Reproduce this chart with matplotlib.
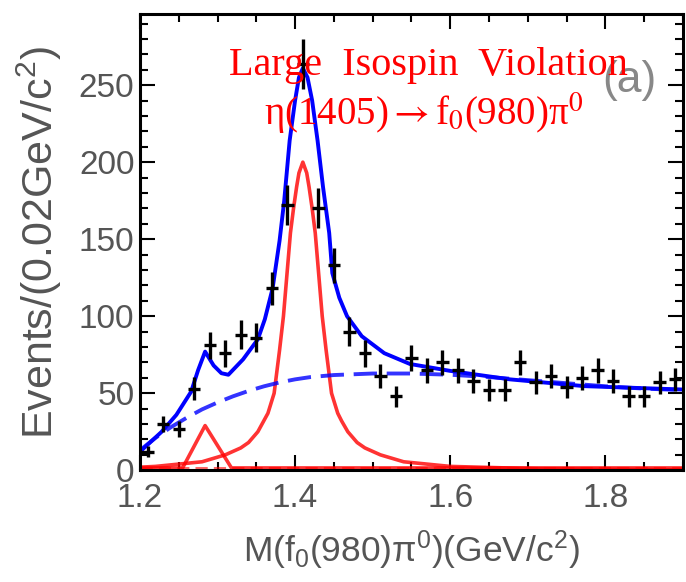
import numpy as np
import matplotlib.pyplot as plt
from matplotlib.ticker import MultipleLocator

plt.rcParams['font.family'] = ['Liberation Sans', 'DejaVu Sans']
plt.rcParams['mathtext.fontset'] = 'custom'
plt.rcParams['mathtext.rm'] = 'Liberation Sans'
plt.rcParams['mathtext.it'] = 'Liberation Sans:italic'

# data points (bin width 0.02 GeV/c^2)
mass = [1.21, 1.23, 1.25, 1.27, 1.29, 1.31, 1.33, 1.35, 1.37, 1.39,
        1.41, 1.43, 1.45, 1.47, 1.49, 1.51, 1.53, 1.55, 1.57, 1.59,
        1.61, 1.63, 1.65, 1.67, 1.69, 1.71, 1.73, 1.75, 1.77, 1.79,
        1.81, 1.83, 1.85, 1.87, 1.89]
counts = [12, 30, 27, 53, 81, 76, 88, 86, 118, 172,
          264, 170, 133, 90, 76, 61, 48, 73, 65, 70,
          65, 58, 52, 52, 70, 57, 61, 54, 60, 65,
          58, 48, 48, 57, 59]
err = np.sqrt(counts)

# total fit (blue solid)
total_x = [1.20, 1.228, 1.247, 1.266, 1.275, 1.284, 1.295, 1.305, 1.314, 1.333,
           1.352, 1.361, 1.371, 1.380, 1.386, 1.393, 1.400, 1.405, 1.410, 1.416,
           1.422, 1.429, 1.436, 1.444, 1.448, 1.457, 1.467, 1.486, 1.515, 1.548,
           1.600, 1.677, 1.773, 1.900]
total_y = [12, 25, 36, 51, 65, 77, 68, 63, 62, 72,
           85, 98, 118, 149, 175, 214, 240, 255, 261, 255,
           240, 214, 184, 154, 128, 112, 100, 87, 76, 69,
           64.5, 59, 54.6, 52.4]

# background (blue dashed)
bkg_x = [1.20, 1.22, 1.24, 1.26, 1.28, 1.30, 1.32, 1.34, 1.36, 1.38,
         1.40, 1.42, 1.45, 1.50, 1.55, 1.60, 1.65, 1.70, 1.75, 1.80,
         1.85, 1.90]
bkg_y = [13, 21, 28, 34, 39.5, 44, 48, 51.5, 54.5, 57,
         59, 60.5, 61.8, 62.8, 62.8, 62, 60.5, 58.5, 56.5, 54.5,
         53, 52]

# eta(1405) signal (red solid)
sig_x = [1.20, 1.22, 1.28, 1.31, 1.33, 1.34, 1.352, 1.365, 1.373, 1.38,
         1.385, 1.39, 1.394, 1.398, 1.402, 1.405, 1.41, 1.415, 1.418, 1.422,
         1.426, 1.43, 1.435, 1.44, 1.447, 1.455, 1.46, 1.468, 1.48, 1.49,
         1.51, 1.54, 1.60, 1.71, 1.90]
sig_y = [2.0, 2.5, 5.5, 10, 14.5, 18, 25, 37, 50, 78,
         100, 130, 154, 170, 184, 193, 200, 193, 184, 170,
         154, 130, 100, 78, 50, 37, 32, 25, 18, 14.5,
         10, 5.5, 2.5, 1.0, 0.3]

# small peak near 1.28 (red solid)
peak2_x = [1.20, 1.255, 1.284, 1.318, 1.90]
peak2_y = [1.5, 1.5, 29, 1.5, 1.5]

# flat component near zero (red dashed)
flat_x = [1.20, 1.90]
flat_y = [1.5, 1.5]

fig = plt.figure(figsize=(6.86, 5.82), dpi=100)
ax = fig.add_axes([0.204, 0.192, 0.7915, 0.7835])

ax.plot(flat_x, flat_y, color='red', lw=2.2, ls=(0, (4, 2)), alpha=0.6)
ax.plot(sig_x, sig_y, color='red', lw=2.6, alpha=0.8)
ax.plot(peak2_x, peak2_y, color='red', lw=2.6, alpha=0.8)
ax.plot(bkg_x, bkg_y, color='blue', lw=2.8, ls=(0, (6, 2.5)), alpha=0.8)
ax.plot(total_x, total_y, color='blue', lw=2.8)
ax.errorbar(mass, counts, yerr=err, xerr=0.008, fmt='none',
            ecolor='black', elinewidth=2.4, capsize=0)

ax.set_xlim(1.2, 1.9)
ax.set_ylim(0, 296)
ax.set_xticks([1.2, 1.4, 1.6, 1.8])
ax.set_yticks([0, 50, 100, 150, 200, 250])
ax.xaxis.set_minor_locator(MultipleLocator(0.05))
ax.yaxis.set_minor_locator(MultipleLocator(10))
ax.tick_params(which='both', direction='in', top=True, right=True,
               width=1.5, labelcolor='#555555', labelsize=24)
ax.tick_params(which='major', length=11)
ax.tick_params(which='minor', length=6)
ax.tick_params(axis='x', pad=9)
ax.tick_params(axis='y', pad=4)
for s in ax.spines.values():
    s.set_linewidth(2.2)

fig.text(0.599, 0.055, r'M(f$_{0}$(980)π$^{0}$)(GeV/c$^{2}$)',
         ha='center', va='center', fontsize=25.5, color='#555555')
fig.text(0.057, 0.584, r'Events/(0.02GeV/c$^{2}$)', rotation=90,
         ha='center', va='center', fontsize=31, color='#555555')

fig.text(0.917, 0.8625, '(a)', ha='center', va='center', fontsize=32,
         color='#888888')
fig.text(0.625, 0.871, 'Large  Isospin  Violation', ha='center', va='baseline',
         fontsize=29, color='red', family=['Liberation Serif', 'DejaVu Serif'])
fig.text(0.618, 0.785, r'η(1405)$\rightarrow$f$_0$(980)π$^0$', ha='center',
         va='baseline', fontsize=28, color='red',
         family=['Liberation Serif', 'DejaVu Serif'], math_fontfamily='stix')

fig.savefig('out.png', dpi=100)
